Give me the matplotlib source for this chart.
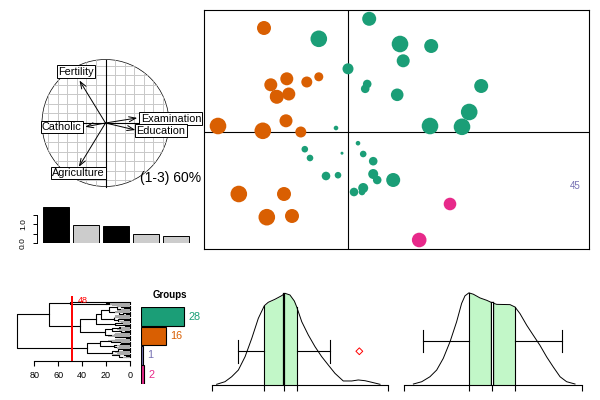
import numpy as np
import matplotlib
matplotlib.use("Agg")
import matplotlib.pyplot as plt

plt.rcParams['font.family'] = ['Liberation Sans', 'DejaVu Sans']

# ---- data ----
# correlation circle (axes 1 and 3)
var_names = ["Fertility", "Examination", "Education", "Catholic", "Agriculture"]
var_x = [-0.41, 0.50, 0.47, -0.32, -0.42]
var_y = [0.67, 0.08, -0.11, -0.06, -0.69]
label_x = [-0.47, 1.03, 0.87, -0.69, -0.43]
label_y = [0.81, 0.07, -0.12, -0.06, -0.79]
inertia_text = "(1-3) 60%"

# eigenvalues
eig = [1.88, 0.96, 0.88, 0.49, 0.39]
eig_kept = [True, False, True, False, False]

# individual scores, coloured by group
orange_x = [-2.10, -1.53, -1.93, -1.03, -0.73, -1.78, -1.48, -3.25, -2.13, -1.55,
            -1.18, -2.73, -1.60, -2.03, -1.40, -1.80]
orange_y = [2.60, 1.33, 1.18, 1.25, 1.38, 0.88, 0.95, 0.15, 0.03, 0.28,
            0.00, -1.55, -1.55, -2.13, -2.10, 0.90]
orange_w = [7, 6.5, 6.5, 5.5, 4.5, 7, 6.5, 8.3, 8.3, 6.5, 5.5, 8.3, 7, 8.3, 7, 6]

green_x = [0.53, -0.73, 1.30, 2.08, 1.38, 0.00, 0.48, 0.43, 1.23, 3.33,
           3.03, 2.05, 2.85, -0.30, 0.25, -0.15, -1.08, -0.95, 0.38, 0.63,
           -0.55, -0.25, 0.63, 0.73, 1.13, 0.38, 0.15, 0.35]
green_y = [2.83, 2.33, 2.20, 2.15, 1.78, 1.58, 1.20, 1.08, 0.93, 1.15,
           0.50, 0.15, 0.13, 0.10, -0.28, -0.53, -0.43, -0.65, -0.55, -0.73,
           -1.10, -1.08, -1.05, -1.20, -1.20, -1.40, -1.50, -1.50]
green_w = [7, 8.3, 8.3, 7, 6.5, 5.5, 4.3, 4.3, 6.3, 7,
           8.3, 8.3, 8.3, 2.3, 2.3, 1.5, 3.3, 3.3, 3.3, 4.3,
           4.3, 3.3, 5, 4.3, 7, 5, 4.3, 3.3]

pink_x = [2.55, 1.78]
pink_y = [-1.80, -2.70]
pink_w = [6.3, 7.3]

purple_label = "45"
purple_x, purple_y = 5.68, -1.35

# hierarchical clustering (height, left, right), L = leaf
L = None
tree_top = (50, L, (20, L, L))
tree_a = (28, (24, (17, (11, (7, L, L), (5, L, L)), (9, (4, L, L), (6, L, (3, L, L)))),
               (13, (8, L, L), (10, (5, L, L), L))),
          (12, (6, L, L), (4, L, L)))
tree_b = (21, (15, (9, L, L), (7, (4, L, L), L)), (12, (8, L, L), (6, L, (3, L, L))))
tree_green = (41.7, tree_a, tree_b)
tree_orange = (35.6, (25, (16, (10, L, L), (7, L, L)), (13, (8, L, L), (5, L, L))),
               (15, (10, (6, L, L), (4, L, L)), (9, (5, L, L), (3, L, L))))
tree = (94.4, (67.5, tree_top, tree_green), tree_orange)
cut_height = 48
leaf_names = ["V. De Geneve", "Rive Droite", "Rive Gauche",
              "Courtelary", "Moutier", "Neuveville", "Aigle", "Aubonne", "Avenches",
              "Cossonay", "Echallens", "Grandson", "Lausanne", "La Vallee", "Lavaux",
              "Morges", "Moudon", "Nyone", "Orbe", "Oron", "Payerne", "Rolle", "Vevey",
              "Yverdon", "Boudry", "La Chauxdfnd", "Le Locle", "Neuchatel", "Val de Ruz",
              "ValdeTravers", "Paysd'enhaut",
              "Delemont", "Franches-Mnt", "Porrentruy", "Broye", "Glane", "Gruyere",
              "Sarine", "Veveyse", "Conthey", "Entremont", "Herens", "Martigwy",
              "Monthey", "St Maurice", "Sierre", "Sion"]

group_sizes = [28, 16, 1, 2]
group_colors = ["#1B9E77", "#D95F02", "#7570B3", "#E7298A"]

# two density panels: curve, then box stats (whisker lo, q1, median, q3, whisker hi)
dens1_x = [0.28, 0.75, 1.13, 1.51, 1.89, 2.27, 2.64, 2.98, 3.20, 3.58, 3.96, 4.15, 4.43,
           4.68, 4.81, 5.10, 5.47, 5.85, 6.23, 6.60, 6.98, 7.45, 7.93, 8.30, 8.68, 9.06, 9.53]
dens1_y = [0.011, 0.039, 0.093, 0.166, 0.311, 0.511, 0.728, 0.865, 0.902, 0.935, 0.974, 1.0,
           0.982, 0.916, 0.854, 0.691, 0.547, 0.420, 0.311, 0.221, 0.130, 0.047, 0.047,
           0.058, 0.050, 0.033, 0.011]
box1 = [1.47, 2.98, 4.08, 4.81, 6.72]
outlier1 = [8.36]

dens2_x = [0.51, 0.98, 1.44, 1.82, 2.19, 2.57, 2.94, 3.22, 3.41, 3.63, 3.88, 4.25, 4.63,
           4.91, 5.19, 5.94, 6.22, 6.50, 6.88, 7.25, 7.62, 8.00, 8.37, 8.75, 9.12, 9.59]
dens2_y = [0.014, 0.039, 0.093, 0.166, 0.293, 0.474, 0.691, 0.890, 0.973, 1.005, 0.990,
           0.950, 0.924, 0.899, 0.880, 0.877, 0.851, 0.779, 0.652, 0.543, 0.435, 0.308,
           0.199, 0.093, 0.039, 0.014]
box2 = [1.07, 3.62, 4.94, 6.24, 8.86]
outlier2 = []

# ---- figure ----
W, H = 600, 400
fig = plt.figure(figsize=(6, 4), dpi=100)
PX = 0.72  # points per pixel


def px_axes(x0, y0, x1, y1):
    return fig.add_axes([x0 / W, 1 - y1 / H, (x1 - x0) / W, (y1 - y0) / H])


# correlation circle: centre (105.5, 123) px, radius 63.5 px
cx, cy, r = 105.5, 123, 63.5
ax = px_axes(34, 52, 206, 196)
ax.set_xlim((34 - cx) / r, (206 - cx) / r)
ax.set_ylim((cy - 196) / r, (cy - 52) / r)
ax.axis("off")
circ = plt.Circle((0, 0), 1, fill=False, color="black", lw=0.5)
ax.add_patch(circ)
clip = plt.Circle((0, 0), 1, transform=ax.transData)
for g in np.arange(-0.9, 0.95, 0.15):
    for ln in (ax.plot([g, g], [-1, 1], color="#C8C8C8", lw=0.7)[0],
               ax.plot([-1, 1], [g, g], color="#C8C8C8", lw=0.7)[0]):
        ln.set_clip_path(clip)
ax.plot([0, 0], [-1, 1], color="black", lw=0.8)
ax.plot([-1, 1], [0, 0], color="black", lw=0.8)
for name, vx, vy, lx, ly in zip(var_names, var_x, var_y, label_x, label_y):
    ax.annotate("", xy=(vx, vy), xytext=(0, 0),
                arrowprops=dict(arrowstyle="->,head_length=0.5,head_width=0.18",
                                lw=0.7, color="black", shrinkA=0, shrinkB=0))
    ax.text(lx, ly, name, ha="center", va="center", fontsize=7.8, clip_on=False,
            bbox=dict(boxstyle="square,pad=0.12", fc="white", ec="black", lw=0.7))
ax.text(1.02, -0.87, inertia_text, ha="center", va="center", fontsize=10)

# eigenvalue barplot
ax = px_axes(41, 205, 192, 243)
pos = np.arange(len(eig))
ax.bar(pos, eig, width=0.846,
       color=["black" if k else "#CCCCCC" for k in eig_kept],
       edgecolor="black", linewidth=0.7)
ax.set_xlim(-0.5, 4.53)
ax.set_ylim(0, 2.0)
for s in ("top", "right", "bottom"):
    ax.spines[s].set_visible(False)
ax.spines["left"].set_position(("outward", 3))
ax.spines["left"].set_bounds(0, 1.5)
ax.spines["left"].set_linewidth(0.7)
ax.set_xticks([])
ax.set_yticks([0, 0.5, 1.0, 1.5])
ax.set_yticklabels(["0.0", "", "1.0", ""], rotation=90, va="center", fontsize=6)
ax.tick_params(axis="y", length=3, width=0.7, pad=4)

# scatter of individuals
ax = px_axes(204, 10, 589, 249)
ax.set_xlim((204 - 348) / 40, (589 - 348) / 40)
ax.set_ylim((132 - 249) / 40, (132 - 10) / 40)
ax.set_facecolor("none")
ax.set_xticks([])
ax.set_yticks([])
for s in ax.spines.values():
    s.set_linewidth(0.8)
ax.axhline(0, color="black", lw=0.8, zorder=1)
ax.axvline(0, color="black", lw=0.8, zorder=1)
for xs, ys, ws, col in ((orange_x, orange_y, orange_w, group_colors[1]),
                        (green_x, green_y, green_w, group_colors[0]),
                        (pink_x, pink_y, pink_w, group_colors[3])):
    sizes = (2 * np.array(ws) * PX) ** 2
    ax.scatter(xs, ys, s=sizes, color=col, linewidths=0, zorder=2)
ax.text(purple_x, purple_y, purple_label, color=group_colors[2], fontsize=7,
        ha="center", va="center")

# dendrogram
ax = px_axes(10, 296, 133, 360.7)


def draw_tree(node, counter):
    if node is None:
        i = counter[0]
        counter[0] += 1
        return i, 0.0
    h, a, b = node
    ya, ha = draw_tree(a, counter)
    yb, hb = draw_tree(b, counter)
    ax.plot([ha, h, h, hb], [ya, ya, yb, yb], color="black", lw=0.8, zorder=2)
    return (ya + yb) / 2, h


draw_tree(tree, [0])
ax.barh(np.arange(len(leaf_names)), [len(n) * 1.5 for n in leaf_names], height=0.8,
        left=0, color="#AAAAAA", zorder=3)
ax.axvline(cut_height, color="red", lw=1.4, zorder=4)
ax.text(cut_height - 9, -1.1, str(cut_height), color="red", fontsize=6.5,
        ha="center", va="center", zorder=5)
ax.set_xlim(100.4, -2.8)
ax.set_ylim(48.9, -5)
for s in ("top", "right", "left"):
    ax.spines[s].set_visible(False)
ax.spines["bottom"].set_bounds(0, 80)
ax.spines["bottom"].set_linewidth(0.8)
ax.set_yticks([])
ax.set_xticks([80, 60, 40, 20, 0])
ax.tick_params(axis="x", length=3.4, width=0.8, labelsize=6.5, pad=4)

# group sizes
ax = px_axes(141.3, 307, 203, 384.3)
gpos = np.arange(len(group_sizes))
ax.barh(gpos, group_sizes, height=0.97, color=group_colors, edgecolor="black",
        linewidth=0.8)
for p, n, col in zip(gpos, group_sizes, group_colors):
    ax.text(n + 2.5, p, str(n), color=col, fontsize=7.8, ha="left", va="center",
            clip_on=False)
ax.text(18.6, -1.1, "Groups", fontsize=7, fontweight="bold", ha="center",
        va="center", clip_on=False)
ax.set_xlim(0, 40)
ax.set_ylim(3.5, -0.5)
ax.axis("off")


def density_panel(box, dx, dy, box_stats, outliers, split_median, wy):
    ax = px_axes(box[0], 290, box[1], 385.3)
    dx = np.array(dx)
    dy = np.array(dy)
    lo, q1, med, q3, hi = box_stats
    ax.plot(dx, dy, color="black", lw=0.7)
    inside = (dx > q1) & (dx < q3)
    fx = np.concatenate([[q1], dx[inside], [q3]])
    fy = np.interp(fx, dx, dy)
    ax.fill_between(fx, 0, fy, color="#C2F7C8", lw=0)
    for q in (q1, q3):
        ax.plot([q, q], [0, np.interp(q, dx, dy)], color="black", lw=0.8)
    top = np.interp(med, dx, dy)
    if split_median:
        ax.plot([med, med], [0, top], color="black", lw=2.4)
        ax.plot([med, med], [0, top], color="white", lw=0.7)
    else:
        ax.plot([med, med], [0, top], color="black", lw=1.6)
    cap = 0.123
    ax.plot([lo, q1], [wy, wy], color="black", lw=0.8)
    ax.plot([q3, hi], [wy, wy], color="black", lw=0.8)
    ax.plot([lo, lo], [wy - cap, wy + cap], color="black", lw=0.8)
    ax.plot([hi, hi], [wy - cap, wy + cap], color="black", lw=0.8)
    if outliers:
        ax.scatter(outliers, [wy] * len(outliers), marker="D", s=12,
                   facecolors="none", edgecolors="red", linewidths=0.7)
    ax.set_xlim(0, 10)
    ax.set_ylim(0, 1.036)
    for s in ("top", "right", "left"):
        ax.spines[s].set_visible(False)
    ax.spines["bottom"].set_linewidth(0.8)
    ax.set_yticks([])
    ax.set_xticks([0, q1, med, q3, 10])
    ax.set_xticklabels([])
    ax.tick_params(axis="x", length=4, width=0.8)


density_panel((211.7, 388.3), dens1_x, dens1_y, box1, outlier1, False, 0.37)
density_panel((404.3, 582.3), dens2_x, dens2_y, box2, outlier2, True, 0.48)

fig.savefig("out.png", dpi=100)
